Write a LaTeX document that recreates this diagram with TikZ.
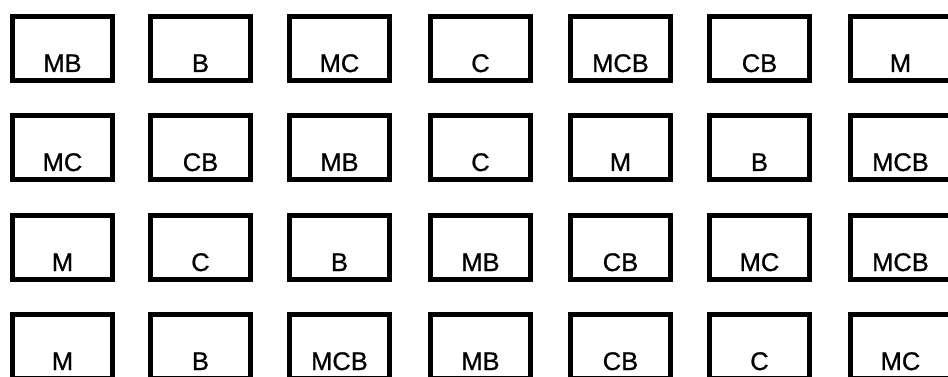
\documentclass[tikz,border=0pt]{standalone}
\usepackage{fontspec}
\setmainfont{Liberation Sans}
\newfontfamily\cellfont{Liberation Sans}[BoldFont=Liberation Sans, BoldFeatures={FakeBold=0.8}]
\begin{document}
\begin{tikzpicture}[x=1pt,y=-1pt,
  cell/.style={draw=black, line width=5pt, rectangle, minimum width=100pt, minimum height=64pt,
    inner sep=0pt, text height=47pt, text depth=0pt, align=center,
    font=\cellfont\bfseries\fontsize{25.5}{30}\selectfont}]
\clip (0,0) rectangle (948,377);
\fill[white] (0,0) rectangle (948,377);
\def\colx{{62.5,200.5,339.5,480.5,620.5,759.5,900.5}}
\def\rowy{{48.5,147.5,247.5,346.5}}
\foreach \r/\labels in {1/{MB,B,MC,C,MCB,CB,M},2/{MC,CB,MB,C,M,B,MCB},3/{M,C,B,MB,CB,MC,MCB},4/{M,B,MCB,MB,CB,C,MC}}{
  \foreach \t [count=\c] in \labels {
    \pgfmathsetmacro{\xx}{\colx[\c-1]}
    \pgfmathsetmacro{\yy}{\rowy[\r-1]}
    \node[cell] (r\r c\c) at (\xx,\yy) {\t};
  }
}
\end{tikzpicture}
\end{document}
